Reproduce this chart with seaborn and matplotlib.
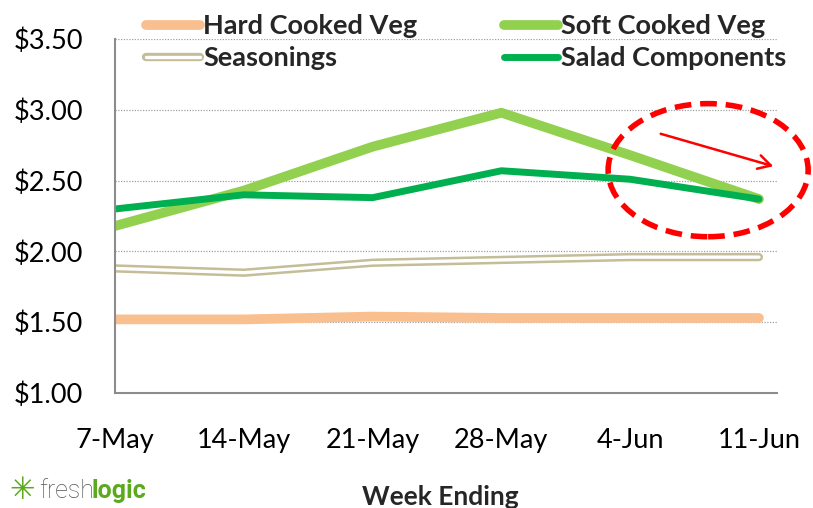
import pandas as pd
import matplotlib.pyplot as plt
import seaborn as sns
from matplotlib.patches import Ellipse, FancyArrowPatch
from matplotlib.lines import Line2D

# 資料
weeks = ['7-May', '14-May', '21-May', '28-May', '4-Jun', '11-Jun']
hard_cooked = [1.52, 1.52, 1.54, 1.53, 1.53, 1.53]
soft_cooked = [2.18, 2.43, 2.74, 2.98, 2.68, 2.37]
seasonings = [1.88, 1.85, 1.92, 1.94, 1.96, 1.96]
salad = [2.30, 2.40, 2.38, 2.57, 2.51, 2.37]

df = pd.DataFrame({'week': weeks, 'Hard Cooked Veg': hard_cooked,
                   'Soft Cooked Veg': soft_cooked, 'Seasonings': seasonings,
                   'Salad Components': salad})

sns.set_style("white")
plt.rcParams['font.family'] = ['Lato', 'DejaVu Sans']

fig = plt.figure(figsize=(8.13, 5.08), dpi=100)
ax = fig.add_axes([0.1415, 0.2264, 0.8142, 0.6966])

c_hard, c_soft, c_seas, c_salad = '#F9BF8F', '#92D050', '#C4BD97', '#00B050'

sns.lineplot(data=df, x='week', y='Hard Cooked Veg', ax=ax, color=c_hard, lw=7, solid_capstyle='round', sort=False)
sns.lineplot(data=df, x='week', y='Seasonings', ax=ax, color=c_seas, lw=6, solid_capstyle='round', sort=False)
sns.lineplot(data=df, x='week', y='Seasonings', ax=ax, color='white', lw=2.4, solid_capstyle='round', sort=False)
sns.lineplot(data=df, x='week', y='Soft Cooked Veg', ax=ax, color=c_soft, lw=7, solid_capstyle='round', sort=False)
sns.lineplot(data=df, x='week', y='Salad Components', ax=ax, color=c_salad, lw=5, solid_capstyle='round', sort=False)

ax.set_xlim(0, 5.14)
ax.set_ylim(1.0, 3.5)
ax.set_yticks([1.0, 1.5, 2.0, 2.5, 3.0, 3.5])
ax.set_yticklabels([f'${v:.2f}' for v in [1.0, 1.5, 2.0, 2.5, 3.0, 3.5]])
for v in [1.5, 2.0, 2.5, 3.0, 3.5]:
    ax.axhline(v, color='#A0A0A0', lw=0.9, ls=(0, (1, 1.2)), zorder=0)
ax.set_xlabel('')
ax.set_ylabel('')
for s in ['top', 'right']:
    ax.spines[s].set_visible(False)
for s in ['left', 'bottom']:
    ax.spines[s].set_color('#8C8C8C')
    ax.spines[s].set_linewidth(1.5)
ax.tick_params(axis='both', which='major', direction='out', length=7, width=1.2,
               color='#8C8C8C', labelsize=19.5, labelcolor='black')
ax.tick_params(axis='x', pad=18)
ax.tick_params(axis='y', pad=16)
for lab in ax.get_xticklabels() + ax.get_yticklabels():
    lab.set_fontfamily(['Lato', 'DejaVu Sans'])

# 圖例
h_hard = Line2D([], [], color=c_hard, lw=7, solid_capstyle='round')
h_seas = (Line2D([], [], color=c_seas, lw=6, solid_capstyle='round'),
          Line2D([], [], color='white', lw=2.4, solid_capstyle='round'))
h_soft = Line2D([], [], color=c_soft, lw=7, solid_capstyle='round')
h_salad = Line2D([], [], color=c_salad, lw=5, solid_capstyle='round')
fig.legend([h_hard, h_seas, h_soft, h_salad],
           ['Hard Cooked Veg', 'Seasonings', 'Soft Cooked Veg', 'Salad Components'],
           ncol=2, loc='upper left', bbox_to_anchor=(0.150, 1.02), frameon=False,
           prop={'weight': 'bold', 'size': 19.5}, handlelength=2.0, handletextpad=0.1,
           columnspacing=3.2, labelspacing=0.3)

# 紅色虛線橢圓與箭頭
ell = Ellipse((0.871, 0.665), 0.246, 0.262, transform=fig.transFigure, fill=False,
              ec='#FF0000', lw=4, ls=(0, (3, 1.6)))
fig.patches.append(ell)
arr = FancyArrowPatch((658 / 813, 1 - 133 / 508), (776 / 813, 1 - 167 / 508),
                      transform=fig.transFigure, arrowstyle='->,head_length=9,head_width=5',
                      color='#FF0000', lw=1.8)
fig.patches.append(arr)

# 標題與標誌
fig.text(0.541, 0.022, 'Week Ending', ha='center', va='center', fontsize=19, fontweight='bold')
fig.text(0.012, 0.035, '\u2733', color='#5BAA1E', fontsize=22, va='center', family=['DejaVu Sans'])
fig.text(0.048, 0.033, 'fresh', color='#555555', fontsize=18, va='center', family=['Roboto'], fontweight='light')
fig.text(0.112, 0.033, 'logic', color='#5BAA1E', fontsize=18, va='center', fontweight='bold', family=['Roboto'])

plt.savefig('out.png', dpi=100)
plt.close()
